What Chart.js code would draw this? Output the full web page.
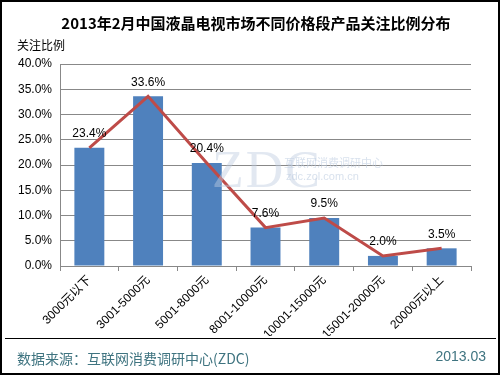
<!DOCTYPE html>
<html>
<head>
<meta charset="utf-8">
<script src="https://cdn.jsdelivr.net/npm/chart.js@4/dist/chart.umd.min.js"></script>
<style>
  html, body { margin: 0; padding: 0; background: #fff; }
  #wrap { position: relative; width: 500px; height: 375px; overflow: hidden; font-family: "Liberation Sans", "Noto Sans CJK SC", sans-serif; }
  #frame { position: absolute; left: 0; top: 0; width: 496px; height: 371px; border: 2px solid #000; pointer-events: none; }
  canvas { position: absolute; left: 0; top: 0; }
  .t { position: absolute; white-space: nowrap; }
  #title { left: 0; width: 512px; top: 12px; text-align: center; font-weight: bold; font-size: 15px; color: #000; font-family: "Noto Sans CJK SC", sans-serif; }
  #ytitle { left: 17px; top: 36px; font-size: 12px; color: #000; font-family: "Noto Sans CJK SC", sans-serif; }
  #sep { position: absolute; left: 5px; width: 491px; top: 338px; height: 1px; background: #000; }
  #src { left: 17px; top: 348px; font-size: 14px; color: #3f7480; font-family: "Noto Sans CJK SC", sans-serif; }
  #date { right: 14px; top: 348px; font-size: 14px; color: #3f7480; }
  #wm1 { left: 212px; top: 140px; font-size: 52px; font-family: "Liberation Serif", serif; color: rgba(190,205,225,0.45); letter-spacing: 2px; }
  #wm2 { left: 284px; top: 154px; font-size: 11px; color: rgba(190,205,225,0.6); font-family: "Noto Sans CJK SC", sans-serif; }
  #wm3 { left: 286px; top: 170px; font-size: 11px; color: rgba(190,205,225,0.6); }
</style>
</head>
<body>
<div id="wrap">
  <canvas id="c" width="500" height="375"></canvas>
  <div class="t" id="wm1">ZDC</div>
  <div class="t" id="wm2">互联网消费调研中心</div>
  <div class="t" id="wm3">zdc.zol.com.cn</div>
  <div class="t" id="title">2013年2月中国液晶电视市场不同价格段产品关注比例分布</div>
  <div class="t" id="ytitle">关注比例</div>
  <div id="sep"></div>
  <div class="t" id="src">数据来源：互联网消费调研中心(ZDC)</div>
  <div class="t" id="date">2013.03</div>
  <div id="frame"></div>
</div>
<script>
const categories = ["3000元以下", "3001-5000元", "5001-8000元", "8001-10000元", "10001-15000元", "15001-20000元", "20000元以上"];
const shares = [23.4, 33.6, 20.4, 7.6, 9.5, 2.0, 3.5];
const yTicks = [0, 5, 10, 15, 20, 25, 30, 35, 40];

const FONT = "'Liberation Sans', 'Noto Sans CJK SC', sans-serif";

const labelPlugin = {
  id: 'barLabels',
  afterDatasetsDraw(chart) {
    const meta = chart.getDatasetMeta(0);
    const ctx = chart.ctx;
    ctx.save();
    ctx.font = "12px " + FONT;
    ctx.fillStyle = "#000";
    ctx.textAlign = "center";
    ctx.textBaseline = "bottom";
    meta.data.forEach((bar, i) => {
      ctx.fillText(shares[i].toFixed(1) + "%", bar.x, bar.y - 8);
    });
    ctx.restore();
  }
};

new Chart(document.getElementById('c'), {
  data: {
    labels: categories,
    datasets: [
      {
        type: 'bar',
        data: shares,
        backgroundColor: '#4f81bd',
        borderWidth: 0,
        barPercentage: 0.51,
        categoryPercentage: 1.0,
        order: 2
      },
      {
        type: 'line',
        data: shares,
        borderColor: '#be4b48',
        borderWidth: 3,
        pointRadius: 0,
        tension: 0,
        fill: false,
        order: 1
      }
    ]
  },
  options: {
    responsive: false,
    animation: false,
    devicePixelRatio: 1,
    layout: { padding: { left: 10, right: 29, top: 64, bottom: 39 } },
    plugins: { legend: { display: false }, tooltip: { enabled: false }, title: { display: false } },
    scales: {
      x: {
        offset: true,
        afterFit: s => { s.height = 70; },
        grid: {
          offset: true,
          drawOnChartArea: true,
          color: c => (c.index === categories.length) ? '#888' : 'rgba(0,0,0,0)',
          tickColor: '#888',
          tickLength: 5
        },
        border: { color: '#888', width: 1 },
        ticks: {
          minRotation: 45,
          maxRotation: 45,
          padding: 2,
          color: '#000',
          font: { size: 12, family: FONT },
          autoSkip: false
        }
      },
      y: {
        min: 0,
        max: 40,
        afterFit: s => { s.width = 50; },
        afterBuildTicks: s => { s.ticks = yTicks.map(v => ({ value: v })); },
        grid: { color: '#888', drawTicks: false },
        border: { color: '#888', width: 1 },
        ticks: {
          padding: 8,
          color: '#000',
          font: { size: 12, family: FONT },
          callback: v => v.toFixed(1) + '%'
        }
      }
    }
  },
  plugins: [labelPlugin]
});
</script>
</body>
</html>
